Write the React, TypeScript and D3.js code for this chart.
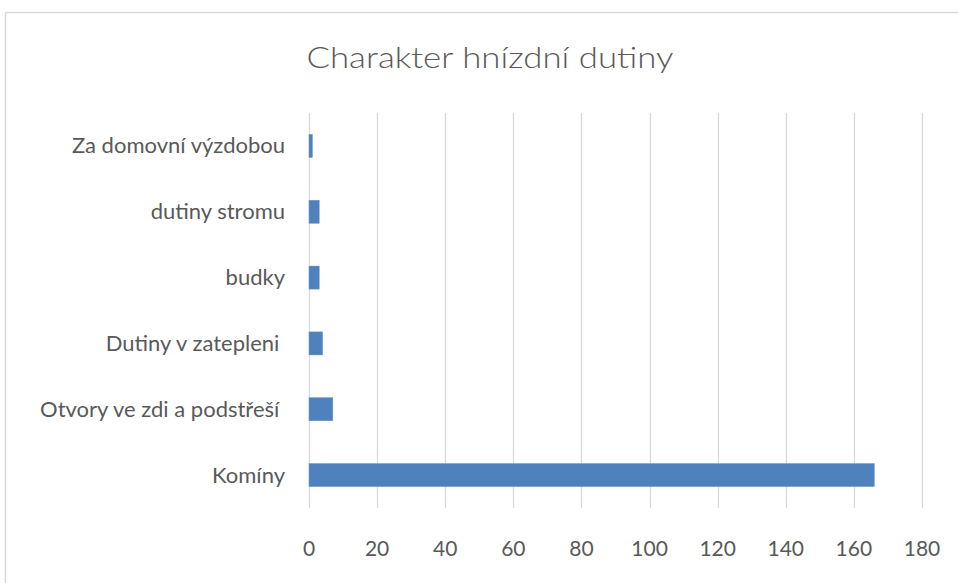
import * as React from 'react';
import * as d3 from 'd3';

const title = 'Charakter hnízdní dutiny';
const categories = [
  'Za domovní výzdobou',
  'dutiny stromu',
  'budky',
  'Dutiny v zatepleni ',
  'Otvory ve zdi a podstřeší ',
  'Komíny',
];
const values = [1, 3, 3, 4, 7, 166];
const ticks = [0, 20, 40, 60, 80, 100, 120, 140, 160, 180];

const W = 958;
const H = 583;
const plot = { left: 309, right: 922, top: 113, bottom: 508 };
const font = 'Lato, "Open Sans", sans-serif';

export default function App() {
  const x = d3.scaleLinear().domain([0, 180]).range([plot.left, plot.right]);
  const y = d3
    .scaleBand<string>()
    .domain(categories)
    .range([plot.top, plot.bottom])
    .paddingInner(0.65)
    .paddingOuter(0.325);

  return (
    <svg
      width={W}
      height={H}
      style={{ position: 'absolute', left: 0, top: 0, display: 'block', background: '#fff' }}
    >
      <rect x={5.5} y={12.5} width={1200} height={1200} fill="#fff" stroke="#d9d9d9" strokeWidth={1.5} />
      <text
        x={490}
        y={68}
        textAnchor="middle"
        fontFamily={font}
        fontWeight={300}
        fontSize={29}
        textLength={367}
        lengthAdjust="spacingAndGlyphs"
        fill="#595959"
      >
        {title}
      </text>
      {ticks.map((t) => (
        <g key={t}>
          <line
            x1={Math.round(x(t)) + 0.5}
            x2={Math.round(x(t)) + 0.5}
            y1={plot.top}
            y2={plot.bottom}
            stroke="#d9d9d9"
            strokeWidth={1.3}
          />
          <text
            x={x(t)}
            y={556}
            textAnchor="middle"
            fontFamily={font}
            fontSize={21}
            fill="#595959"
          >
            {t}
          </text>
        </g>
      ))}
      {categories.map((c, i) => (
        <g key={c}>
          <rect
            x={x(0)}
            y={y(c)}
            width={x(values[i]) - x(0)}
            height={y.bandwidth()}
            fill="#4f81bd"
            stroke="#6d96c8"
            strokeWidth={0.5}
          />
          <text
            x={285}
            y={(y(c) ?? 0) + y.bandwidth() / 2 + 7.5}
            textAnchor="end"
            fontFamily={font}
            fontSize={22}
            fill="#595959"
            style={{ whiteSpace: 'pre' }}
          >
            {c}
          </text>
        </g>
      ))}
    </svg>
  );
}
